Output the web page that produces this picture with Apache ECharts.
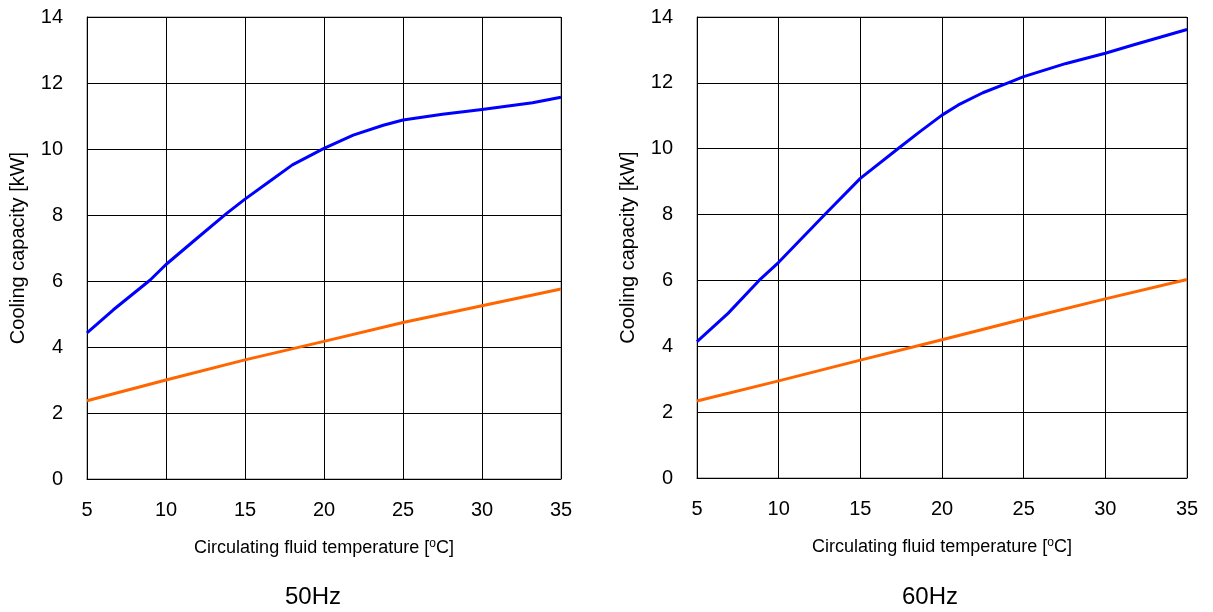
<!DOCTYPE html>
<html>
<head>
<meta charset="utf-8">
<script src="https://cdn.jsdelivr.net/npm/echarts@6/dist/echarts.min.js"></script>
<style>
  html, body { margin: 0; padding: 0; background: #fff; }
  #chart { width: 1213px; height: 612px; }
</style>
</head>
<body>
<div id="chart"></div>
<script>
// x ticks / y ticks
const xTicks = [5, 10, 15, 20, 25, 30, 35];
const yTicks = [0, 2, 4, 6, 8, 10, 12, 14];

// 50Hz panel, [temperature, kW]
const blue50 = [
  [5, 4.43], [6.65, 5.12], [9, 6.03], [10, 6.5], [12, 7.31], [13.84, 8.05],
  [15, 8.48], [16.5, 9.0], [18, 9.52], [20, 10.02], [21.85, 10.42],
  [23.75, 10.72], [25, 10.88], [27.5, 11.05], [30, 11.2], [33.2, 11.4], [35, 11.57]
];
const orange50 = [
  [5, 2.37], [10, 3.0], [15, 3.61], [20, 4.17], [25, 4.74], [30, 5.25], [35, 5.76]
];

// 60Hz panel
const blue60 = [
  [5, 4.14], [6.9, 5.0], [8.8, 6.0], [10, 6.55], [12.9, 8.04], [15, 9.1],
  [17.3, 10.0], [18.65, 10.52], [20, 11.02], [21, 11.33], [22.5, 11.7],
  [24.2, 12.03], [25, 12.19], [27.6, 12.59], [30, 12.9], [31.7, 13.15], [35, 13.62]
];
const orange60 = [
  [5, 2.34], [10, 2.95], [15, 3.58], [20, 4.2], [25, 4.83], [30, 5.44], [35, 6.03]
];

const panelTitles = ['50Hz', '60Hz'];
const xName = 'Circulating fluid temperature [{sup|o}C]';
const yName = 'Cooling capacity [kW]';

const font = 'Arial, "Liberation Sans", sans-serif';
const blue = '#0000ff';
const orange = '#ff6600';

function makeX(idx) {
  return {
    type: 'value',
    gridIndex: idx,
    min: xTicks[0],
    max: xTicks[xTicks.length - 1],
    interval: 5,
    name: xName,
    nameLocation: 'middle',
    nameGap: 59,
    nameTextStyle: {
      fontFamily: font, fontSize: 18, color: '#000',
      rich: { sup: { fontFamily: font, fontSize: 12, color: '#000', verticalAlign: 'top', padding: [0, 0, 8, 0] } }
    },
    axisLine: { lineStyle: { color: '#000', width: 1 } },
    axisTick: { show: false },
    axisLabel: { fontFamily: font, fontSize: 20, color: '#000', margin: 21 },
    splitLine: { show: true, lineStyle: { color: '#000', width: 1 } }
  };
}

function makeY(idx) {
  return {
    type: 'value',
    gridIndex: idx,
    min: yTicks[0],
    max: yTicks[yTicks.length - 1],
    interval: 2,
    name: yName,
    nameLocation: 'middle',
    nameGap: 59,
    nameTextStyle: { fontFamily: font, fontSize: 20, color: '#000' },
    axisLine: { show: true, lineStyle: { color: '#000', width: 1 } },
    axisTick: { show: false },
    axisLabel: { fontFamily: font, fontSize: 20, color: '#000', margin: 24 },
    splitLine: { show: true, lineStyle: { color: '#000', width: 1 } }
  };
}

function makeLine(data, color, idx) {
  return {
    type: 'line',
    xAxisIndex: idx,
    yAxisIndex: idx,
    data: data,
    smooth: false,
    showSymbol: false,
    lineStyle: { color: color, width: 3, join: 'round' },
    itemStyle: { color: color },
    z: 5
  };
}

const option = {
  backgroundColor: '#fff',
  animation: false,
  title: [
    { text: panelTitles[0], left: 308, top: 580, textAlign: 'center',
      textStyle: { fontFamily: font, fontSize: 24, fontWeight: 'normal', color: '#000' } },
    { text: panelTitles[1], left: 925, top: 580, textAlign: 'center',
      textStyle: { fontFamily: font, fontSize: 24, fontWeight: 'normal', color: '#000' } }
  ],
  grid: [
    { left: 87, right: 652, top: 17, bottom: 133, show: true, borderColor: '#808080', borderWidth: 1 },
    { left: 697, right: 26, top: 17, bottom: 134, show: true, borderColor: '#808080', borderWidth: 1 }
  ],
  xAxis: [makeX(0), makeX(1)],
  yAxis: [makeY(0), makeY(1)],
  series: [
    makeLine(blue50, blue, 0),
    makeLine(orange50, orange, 0),
    makeLine(blue60, blue, 1),
    makeLine(orange60, orange, 1)
  ]
};

const myChart = echarts.init(document.getElementById('chart'), null, { renderer: 'canvas' });
myChart.setOption(option);
</script>
</body>
</html>
